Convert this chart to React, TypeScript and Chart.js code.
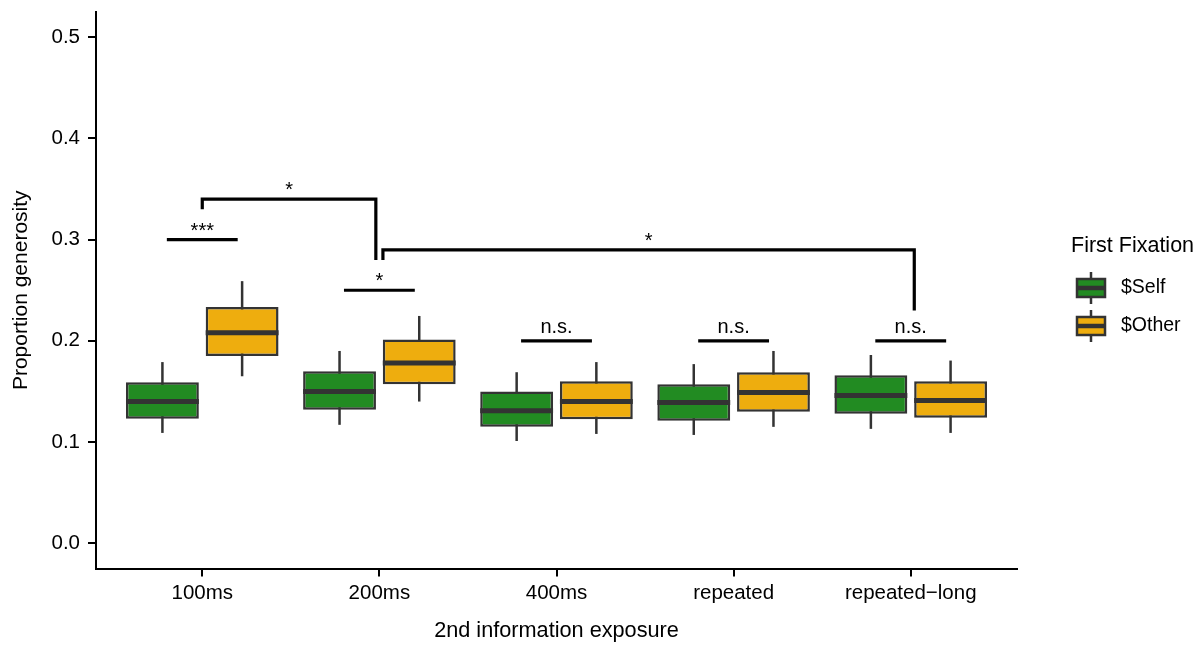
import React, { useEffect, useRef } from 'react';
import { Chart, registerables } from 'chart.js';

Chart.register(...registerables);

// ---------- data ----------
const CATEGORIES = ['100ms', '200ms', '400ms', 'repeated', 'repeated\u2212long'];
const X_POS = [1, 2, 3, 4, 5];
const Y_TICKS = [0, 0.1, 0.2, 0.3, 0.4, 0.5];

// $Self boxplot stats
const SELF_LOW = [0.109, 0.117, 0.101, 0.107, 0.113];
const SELF_Q1 = [0.123, 0.132, 0.115, 0.121, 0.128];
const SELF_MED = [0.140, 0.150, 0.131, 0.139, 0.146];
const SELF_Q3 = [0.159, 0.170, 0.150, 0.157, 0.166];
const SELF_HIGH = [0.179, 0.190, 0.169, 0.177, 0.186];

// $Other boxplot stats
const OTHER_LOW = [0.165, 0.140, 0.108, 0.115, 0.109];
const OTHER_Q1 = [0.185, 0.157, 0.1225, 0.130, 0.124];
const OTHER_MED = [0.208, 0.178, 0.140, 0.149, 0.141];
const OTHER_Q3 = [0.2335, 0.2013, 0.160, 0.169, 0.160];
const OTHER_HIGH = [0.259, 0.2246, 0.179, 0.190, 0.1805];

// within-category significance
const WITHIN_LABELS = ['***', '*', 'n.s.', 'n.s.', 'n.s.'];
const WITHIN_Y = [0.30, 0.25, 0.20, 0.20, 0.20];
const WITHIN_HALF = 0.2;

// between-category brackets
const CROSS_X1 = [1, 2.02];
const CROSS_X2 = [1.98, 5.02];
const CROSS_Y = [0.34, 0.29];
const CROSS_Y_LEFT = [0.33, 0.28];
const CROSS_Y_RIGHT = [0.28, 0.23];
const CROSS_LABELS = ['*', '*'];

const SERIES_NAMES = ['$Self', '$Other'];
const GREEN = '#228B22';
const ORANGE = '#EEAD0E';
const EDGE = '#333333';
const FONT = "'Liberation Sans', Arial, Helvetica, sans-serif";

const LOWS = [SELF_LOW, OTHER_LOW];
const MEDS = [SELF_MED, OTHER_MED];
const HIGHS = [SELF_HIGH, OTHER_HIGH];

const boxPlugin = {
  id: 'boxExtras',
  beforeDatasetsDraw(chart: any) {
    const ctx = chart.ctx;
    const y = chart.scales.y;
    ctx.save();
    ctx.strokeStyle = EDGE;
    ctx.lineWidth = 2.5;
    for (let d = 0; d < 2; d++) {
      const meta = chart.getDatasetMeta(d);
      meta.data.forEach((bar: any, i: number) => {
        const x = bar.x;
        ctx.beginPath();
        ctx.moveTo(x, y.getPixelForValue(LOWS[d][i]));
        ctx.lineTo(x, y.getPixelForValue(HIGHS[d][i]));
        ctx.stroke();
      });
    }
    ctx.restore();
  },
  afterDatasetsDraw(chart: any) {
    const ctx = chart.ctx;
    const y = chart.scales.y;
    ctx.save();
    ctx.strokeStyle = EDGE;
    ctx.lineWidth = 5;
    for (let d = 0; d < 2; d++) {
      const meta = chart.getDatasetMeta(d);
      meta.data.forEach((bar: any, i: number) => {
        const py = y.getPixelForValue(MEDS[d][i]);
        ctx.beginPath();
        ctx.moveTo(bar.x - bar.width / 2, py);
        ctx.lineTo(bar.x + bar.width / 2, py);
        ctx.stroke();
      });
    }
    ctx.restore();
  },
  afterDraw(chart: any) {
    const ctx = chart.ctx;
    const xs = chart.scales.x;
    const ys = chart.scales.y;
    ctx.save();
    ctx.strokeStyle = '#000';
    ctx.fillStyle = '#000';
    ctx.lineWidth = 3.2;
    ctx.lineCap = 'butt';
    ctx.textAlign = 'center';
    ctx.textBaseline = 'alphabetic';
    ctx.font = `20px ${FONT}`;
    // within
    X_POS.forEach((xv, i) => {
      const x1 = xs.getPixelForValue(xv - WITHIN_HALF);
      const x2 = xs.getPixelForValue(xv + WITHIN_HALF);
      const py = ys.getPixelForValue(WITHIN_Y[i]);
      ctx.beginPath();
      ctx.moveTo(x1, py);
      ctx.lineTo(x2, py);
      ctx.stroke();
      const lab = WITHIN_LABELS[i];
      const off = lab.includes('*') ? 3 : 8;
      ctx.fillText(lab, (x1 + x2) / 2, py - off);
    });
    // cross
    CROSS_X1.forEach((xv, i) => {
      const x1 = xs.getPixelForValue(xv);
      const x2 = xs.getPixelForValue(CROSS_X2[i]);
      const py = ys.getPixelForValue(CROSS_Y[i]);
      ctx.beginPath();
      ctx.moveTo(x1, ys.getPixelForValue(CROSS_Y_LEFT[i]));
      ctx.lineTo(x1, py);
      ctx.lineTo(x2, py);
      ctx.lineTo(x2, ys.getPixelForValue(CROSS_Y_RIGHT[i]));
      ctx.stroke();
      ctx.fillText(CROSS_LABELS[i], (x1 + x2) / 2, py - 3);
    });

    // legend
    ctx.textAlign = 'left';
    ctx.textBaseline = 'middle';
    ctx.font = `21.5px ${FONT}`;
    ctx.fillText('First Fixation', 1071, 246);
    const colors = [GREEN, ORANGE];
    ctx.font = `19.5px ${FONT}`;
    SERIES_NAMES.forEach((name, i) => {
      const cy = 288 + i * 38;
      const left = 1077;
      const w = 28;
      ctx.strokeStyle = EDGE;
      ctx.lineWidth = 2.5;
      ctx.beginPath();
      ctx.moveTo(left + w / 2, cy - 16);
      ctx.lineTo(left + w / 2, cy + 16);
      ctx.stroke();
      ctx.fillStyle = colors[i];
      ctx.fillRect(left, cy - 9, w, 18);
      ctx.strokeRect(left, cy - 9, w, 18);
      ctx.lineWidth = 4.5;
      ctx.beginPath();
      ctx.moveTo(left - 1, cy);
      ctx.lineTo(left + w + 1, cy);
      ctx.stroke();
      ctx.fillStyle = '#000';
      ctx.fillText(name, 1121, cy);
    });
    ctx.restore();
  },
};

export default function App() {
  const ref = useRef<HTMLCanvasElement>(null);
  useEffect(() => {
    document.body.style.margin = '0';
    Chart.defaults.font.family = FONT;
    const chart = new Chart(ref.current as HTMLCanvasElement, {
      type: 'bar',
      data: {
        datasets: [
          {
            label: SERIES_NAMES[0],
            data: X_POS.map((x, i) => ({ x, y: [SELF_Q1[i], SELF_Q3[i]] })) as any,
            backgroundColor: GREEN,
            borderColor: EDGE,
            borderWidth: 2.5,
            borderSkipped: false,
            barPercentage: 0.914,
            categoryPercentage: 0.9,
          },
          {
            label: SERIES_NAMES[1],
            data: X_POS.map((x, i) => ({ x, y: [OTHER_Q1[i], OTHER_Q3[i]] })) as any,
            backgroundColor: ORANGE,
            borderColor: EDGE,
            borderWidth: 2.5,
            borderSkipped: false,
            barPercentage: 0.914,
            categoryPercentage: 0.9,
          },
        ],
      },
      options: {
        animation: false,
        responsive: false,
        devicePixelRatio: 1,
        events: [],
        layout: { padding: { left: 0, top: 12, right: 181, bottom: 0 } },
        plugins: { legend: { display: false }, tooltip: { enabled: false } },
        scales: {
          x: {
            type: 'linear',
            min: 0.4,
            max: 5.6,
            offset: false,
            afterBuildTicks: (s: any) => {
              s.ticks = X_POS.map((v) => ({ value: v }));
            },
            afterFit: (s: any) => {
              s.height = 79.5;
              s.paddingLeft = 0;
              s.paddingRight = 0;
            },
            ticks: {
              autoSkip: false,
              maxRotation: 0,
              color: '#000',
              padding: 5,
              font: { size: 20.5, family: FONT },
              callback: (v: any) => CATEGORIES[Number(v) - 1] ?? '',
            },
            grid: {
              offset: false,
              drawOnChartArea: false,
              drawTicks: true,
              tickLength: 8,
              tickColor: '#000',
              lineWidth: 2,
            },
            border: { display: true, color: '#000', width: 2 },
            title: {
              display: true,
              text: '2nd information exposure',
              color: '#000',
              font: { size: 21.7, family: FONT },
              padding: { top: 0, bottom: 4 },
            },
          },
          y: {
            type: 'linear',
            min: -0.025,
            max: 0.525,
            afterBuildTicks: (s: any) => {
              s.ticks = Y_TICKS.map((v) => ({ value: v }));
            },
            afterFit: (s: any) => {
              s.width = 96;
              s.paddingTop = 0;
              s.paddingBottom = 0;
            },
            ticks: {
              color: '#000',
              padding: 8,
              font: { size: 20.5, family: FONT },
              callback: (v: any) => Number(v).toFixed(1),
            },
            grid: {
              drawOnChartArea: false,
              drawTicks: true,
              tickLength: 8,
              tickColor: '#000',
              lineWidth: 2,
            },
            border: { display: true, color: '#000', width: 2 },
            title: {
              display: true,
              text: 'Proportion generosity',
              color: '#000',
              font: { size: 21, family: FONT },
              padding: { top: 9, bottom: 0 },
            },
          },
        },
      },
      plugins: [boxPlugin],
    } as any);
    return () => chart.destroy();
  }, []);
  return (
    <div style={{ width: 1198, height: 648 }}>
      <canvas ref={ref} width={1198} height={648} />
    </div>
  );
}
